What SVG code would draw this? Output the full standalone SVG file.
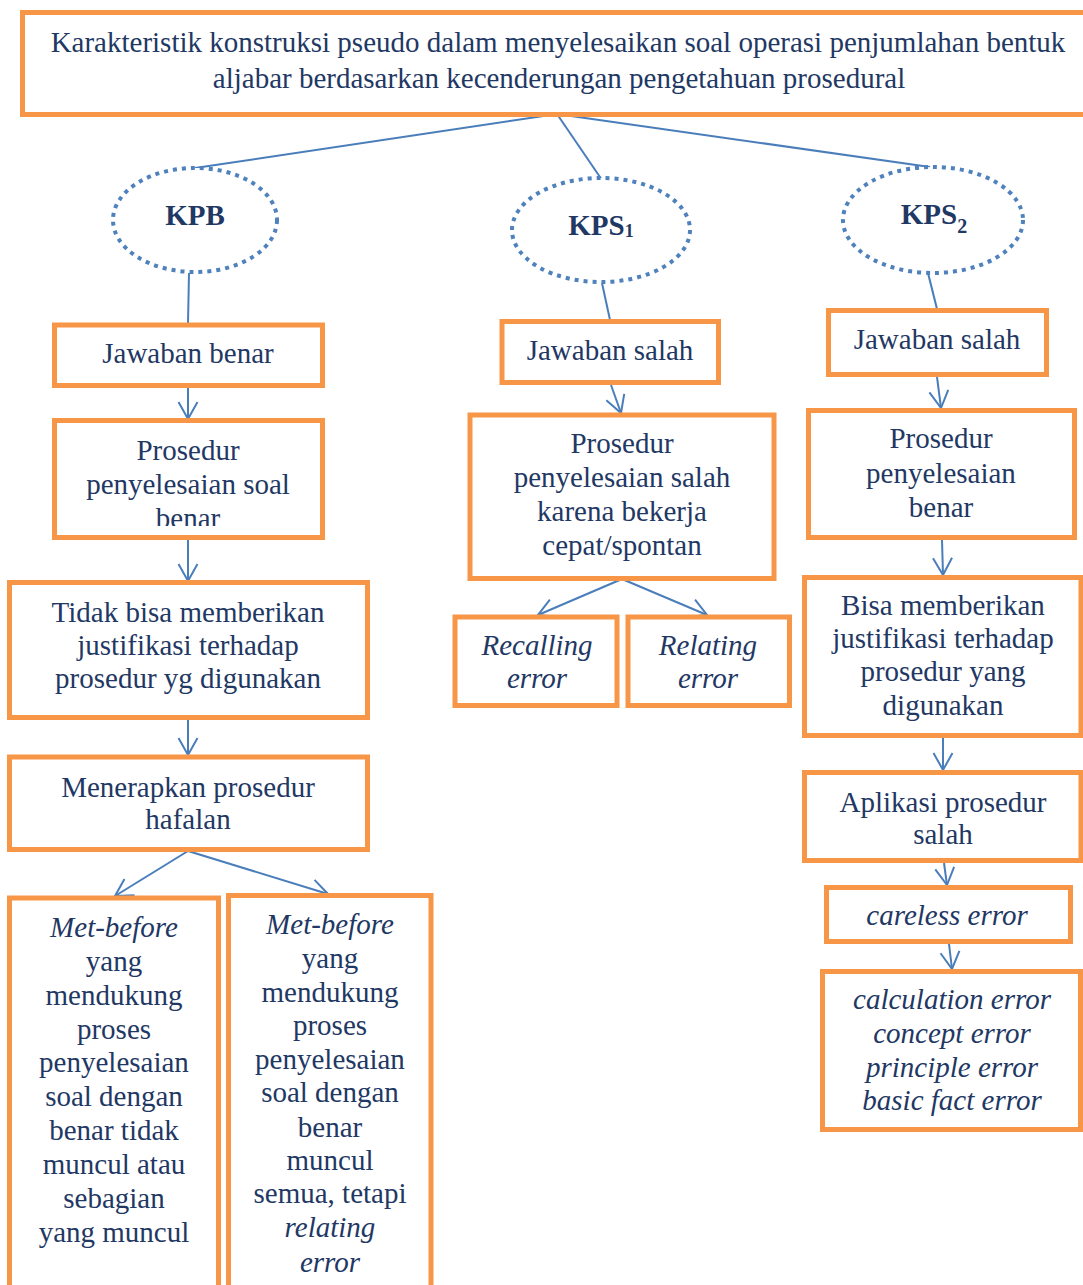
<svg xmlns="http://www.w3.org/2000/svg" width="1083" height="1285" viewBox="0 0 1083 1285">
<style>
.box{fill:#FFFFFF;stroke:#F79646;stroke-width:5}
.ell{fill:#FFFFFF;stroke:#4F81BD;stroke-width:4;stroke-dasharray:4 5}
.t{font-family:"Liberation Serif","Times New Roman",serif;font-size:29px;fill:#1F3864;text-anchor:middle}
.i{font-style:italic}
.b{font-weight:bold}
.c{fill:none;stroke:#4A7EBB;stroke-width:2}
.a{marker-end:url(#arr)}
</style>
<defs>
<marker id="arr" markerUnits="userSpaceOnUse" viewBox="-20 -12 22 24" refX="0" refY="0" markerWidth="22" markerHeight="24" orient="auto" overflow="visible">
<path d="M-17,-9.5 L0,0 L-17,9.5" fill="none" stroke="#4A7EBB" stroke-width="2"/>
</marker>
<clipPath id="clipPB"><rect x="57" y="423" width="263" height="103"/></clipPath>
</defs>

<g id="connectors">
<line class="c" x1="557" y1="114" x2="195" y2="168"/>
<line class="c" x1="557" y1="114" x2="602" y2="180"/>
<line class="c" x1="557" y1="114" x2="930" y2="167"/>
<line class="c" x1="189" y1="273" x2="188" y2="323"/>
<line class="c" x1="602" y1="283" x2="610" y2="320"/>
<line class="c" x1="928" y1="273" x2="937" y2="309"/>
<line class="c a" x1="188" y1="388" x2="188" y2="419"/>
<line class="c a" x1="188" y1="540" x2="188" y2="581"/>
<line class="c a" x1="188" y1="720" x2="188" y2="755"/>
<line class="c a" x1="188" y1="851" x2="115" y2="896"/>
<line class="c a" x1="188" y1="851" x2="328" y2="894"/>
<line class="c a" x1="611" y1="385" x2="621" y2="413"/>
<line class="c a" x1="622" y1="579" x2="538" y2="615"/>
<line class="c a" x1="622" y1="579" x2="707" y2="615"/>
<line class="c a" x1="937" y1="377" x2="941" y2="408"/>
<line class="c a" x1="942" y1="540" x2="943" y2="575"/>
<line class="c a" x1="943" y1="738" x2="943" y2="770"/>
<line class="c a" x1="944" y1="863" x2="947" y2="885"/>
<line class="c a" x1="949" y1="944" x2="952" y2="969"/>
</g>

<g id="title">
<rect class="box" x="22.5" y="12.5" width="1090" height="102"/>
<text class="t" x="558" y="52">Karakteristik konstruksi pseudo dalam menyelesaikan soal operasi penjumlahan bentuk</text>
<text class="t" x="559" y="88">aljabar berdasarkan kecenderungan pengetahuan prosedural</text>
</g>

<g id="kpb">
<ellipse class="ell" cx="195" cy="220" rx="82" ry="52"/>
<text class="t b" x="195" y="225">KPB</text>
</g>
<g id="kps1">
<ellipse class="ell" cx="601" cy="230" rx="89" ry="52"/>
<text class="t b" x="601" y="235">KPS<tspan font-size="18" dy="2">1</tspan></text>
</g>
<g id="kps2">
<ellipse class="ell" cx="933" cy="220" rx="90" ry="53"/>
<text class="t b" x="934" y="224">KPS<tspan font-size="20" dy="9">2</tspan></text>
</g>

<g id="kpb-jawaban">
<rect class="box" x="54.5" y="325" width="268" height="60.5"/>
<text class="t" x="188" y="363">Jawaban benar</text>
</g>
<g id="kpb-prosedur">
<rect class="box" x="54.5" y="420.5" width="268" height="117"/>
<g clip-path="url(#clipPB)">
<text class="t" x="188" y="460">Prosedur</text>
<text class="t" x="188" y="494">penyelesaian soal</text>
<text class="t" x="188" y="528">benar</text>
</g>
</g>
<g id="kpb-tidak">
<rect class="box" x="9.5" y="582.5" width="358" height="135"/>
<text class="t" x="188" y="622">Tidak bisa memberikan</text>
<text class="t" x="188" y="655">justifikasi terhadap</text>
<text class="t" x="188" y="688">prosedur yg digunakan</text>
</g>
<g id="kpb-menerapkan">
<rect class="box" x="9.5" y="757" width="358" height="92.5"/>
<text class="t" x="188" y="797">Menerapkan prosedur</text>
<text class="t" x="188" y="829">hafalan</text>
</g>
<g id="kpb-metbefore1">
<rect class="box" x="9.5" y="898" width="209" height="420"/>
<text class="t i" x="114" y="937">Met-before</text>
<text class="t" x="114" y="971">yang</text>
<text class="t" x="114" y="1005">mendukung</text>
<text class="t" x="114" y="1039">proses</text>
<text class="t" x="114" y="1072">penyelesaian</text>
<text class="t" x="114" y="1106">soal dengan</text>
<text class="t" x="114" y="1140">benar tidak</text>
<text class="t" x="114" y="1174">muncul atau</text>
<text class="t" x="114" y="1208">sebagian</text>
<text class="t" x="114" y="1242">yang muncul</text>
</g>
<g id="kpb-metbefore2">
<rect class="box" x="228.5" y="895.5" width="202.5" height="420"/>
<text class="t i" x="330" y="934">Met-before</text>
<text class="t" x="330" y="968">yang</text>
<text class="t" x="330" y="1002">mendukung</text>
<text class="t" x="330" y="1035">proses</text>
<text class="t" x="330" y="1069">penyelesaian</text>
<text class="t" x="330" y="1102">soal dengan</text>
<text class="t" x="330" y="1137">benar</text>
<text class="t" x="330" y="1170">muncul</text>
<text class="t" x="330" y="1203">semua, tetapi</text>
<text class="t i" x="330" y="1237">relating</text>
<text class="t i" x="330" y="1272">error</text>
</g>

<g id="kps1-jawaban">
<rect class="box" x="502" y="321.5" width="216.5" height="61"/>
<text class="t" x="610" y="360">Jawaban salah</text>
</g>
<g id="kps1-prosedur">
<rect class="box" x="470" y="415" width="304" height="163.5"/>
<text class="t" x="622" y="453">Prosedur</text>
<text class="t" x="622" y="487">penyelesaian salah</text>
<text class="t" x="622" y="521">karena bekerja</text>
<text class="t" x="622" y="555">cepat/spontan</text>
</g>
<g id="kps1-recalling">
<rect class="box" x="455" y="617" width="162" height="88.5"/>
<text class="t i" x="537" y="655">Recalling</text>
<text class="t i" x="537" y="688">error</text>
</g>
<g id="kps1-relating">
<rect class="box" x="628" y="617" width="161.5" height="88.5"/>
<text class="t i" x="708" y="655">Relating</text>
<text class="t i" x="708" y="688">error</text>
</g>

<g id="kps2-jawaban">
<rect class="box" x="828.5" y="310.5" width="218" height="64"/>
<text class="t" x="937" y="349">Jawaban salah</text>
</g>
<g id="kps2-prosedur">
<rect class="box" x="808.5" y="410.5" width="266" height="127"/>
<text class="t" x="941" y="448">Prosedur</text>
<text class="t" x="941" y="483">penyelesaian</text>
<text class="t" x="941" y="517">benar</text>
</g>
<g id="kps2-bisa">
<rect class="box" x="804.5" y="577.5" width="276.5" height="158"/>
<text class="t" x="943" y="615">Bisa memberikan</text>
<text class="t" x="943" y="648">justifikasi terhadap</text>
<text class="t" x="943" y="681">prosedur yang</text>
<text class="t" x="943" y="715">digunakan</text>
</g>
<g id="kps2-aplikasi">
<rect class="box" x="804.5" y="772.5" width="276.5" height="88"/>
<text class="t" x="943" y="812">Aplikasi prosedur</text>
<text class="t" x="943" y="844">salah</text>
</g>
<g id="kps2-careless">
<rect class="box" x="826.5" y="887.5" width="244" height="54"/>
<text class="t i" x="947" y="925">careless error</text>
</g>
<g id="kps2-errors">
<rect class="box" x="822.5" y="971.5" width="258" height="158"/>
<text class="t i" x="952" y="1009">calculation error</text>
<text class="t i" x="952" y="1043">concept error</text>
<text class="t i" x="952" y="1077">principle error</text>
<text class="t i" x="952" y="1110">basic fact error</text>
</g>
</svg>
